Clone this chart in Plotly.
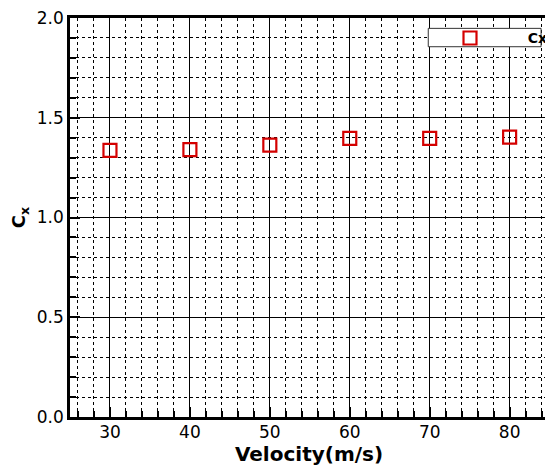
import plotly.graph_objects as go

velocity = [30, 40, 50, 60, 70, 80]
cx_values = [1.336, 1.340, 1.363, 1.397, 1.397, 1.403]
series_name = "Cx"
x_title = "Velocity(m/s)"
y_title = "C<sub>x</sub>"

FONT = "DejaVu Sans, Liberation Sans, Arial, sans-serif"

fig = go.Figure()
fig.add_trace(go.Scatter(
    x=velocity, y=cx_values, mode="markers",
    name="\u00a0" * 4 + "<b>" + series_name + "</b>",
    marker=dict(symbol="square-open", size=13, color="#d40000",
                line=dict(width=2.2, color="#d40000")),
))

# legend frame (paper coordinates) drawn as a white box under the legend entry
fig.add_shape(type="rect", xref="paper", yref="paper",
              x0=0.7495, x1=0.9855, y0=0.928, y1=0.974,
              fillcolor="white", line=dict(color="#333333", width=1), layer="above")

# page body has an 8px margin: compensate so the plot lands where the reference has it
fig.update_layout(
    width=545, height=458,
    margin=dict(l=62, r=0, t=7, b=49),
    paper_bgcolor="white", plot_bgcolor="white",
    font=dict(family=FONT, size=17, color="black"),
    showlegend=True,
    legend=dict(x=0.7535, y=0.989, xanchor="left", yanchor="top",
                bgcolor="rgba(0,0,0,0)", borderwidth=0,
                font=dict(size=14, color="black", family=FONT),
                itemwidth=70, tracegroupgap=0),
    xaxis=dict(
        range=[25, 84.8], dtick=10, tick0=30,
        showline=True, linecolor="black", linewidth=2.5, mirror=True,
        ticks="inside", ticklen=10, tickwidth=2, tickcolor="black",
        showgrid=True, gridcolor="black", gridwidth=1,
        zeroline=False,
        minor=dict(dtick=2, showgrid=True, gridcolor="black", griddash="dot",
                   gridwidth=1, ticks="inside", ticklen=6, tickcolor="black"),
        title=dict(text="<b>" + x_title + "</b>", font=dict(size=20), standoff=0),
        tickfont=dict(size=17),
        ticklabelstandoff=-2,
        ticklabeloverflow="allow",
    ),
    yaxis=dict(
        range=[0, 2.0], dtick=0.5, tickformat=".1f",
        showline=True, linecolor="black", linewidth=2.5, mirror=False,
        ticks="inside", ticklen=10, tickwidth=2, tickcolor="black",
        showgrid=True, gridcolor="black", gridwidth=1,
        zeroline=False,
        minor=dict(dtick=0.1, showgrid=True, gridcolor="black", griddash="dot",
                   gridwidth=1, ticks="inside", ticklen=6, tickcolor="black"),
        title=dict(text="<b>" + y_title + "</b>", font=dict(size=18), standoff=13),
        tickfont=dict(size=17),
        ticklabeloverflow="allow",
    ),
)

fig.write_html("out.html")
